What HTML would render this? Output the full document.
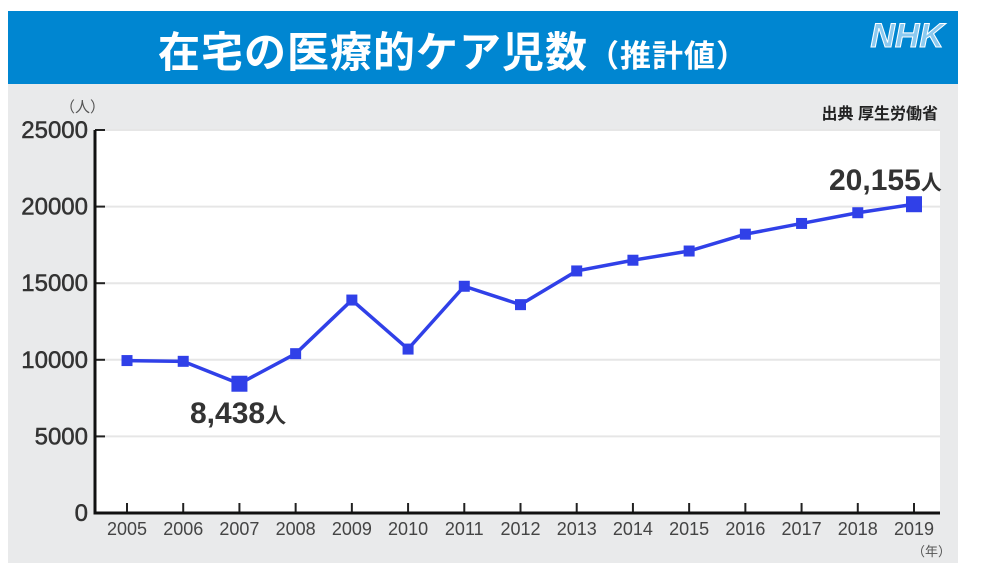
<!DOCTYPE html>
<html><head><meta charset="utf-8"><style>
body{margin:0;width:982px;height:583px;background:#fff;overflow:hidden;font-family:"Liberation Sans","Noto Sans CJK JP",sans-serif}
#hdr{position:absolute;left:8px;top:11px;width:950px;height:73px;background:#0086d1}
#title{position:absolute;left:0;width:890px;top:8px;text-align:center;color:#fff;font-size:42px;font-weight:bold;letter-spacing:1px}
#title small{font-size:31px}
#nhk{position:absolute;right:14px;top:6px;color:#8ccaf0;font-size:34px;font-weight:bold;font-style:italic;-webkit-text-stroke:1px #fff}
#bg{position:absolute;left:8px;top:84px;width:950px;height:479px;background:#e9eaeb}
</style></head><body>
<div id="hdr"><div id="title">在宅の医療的ケア児数<small>（推計値）</small></div><div id="nhk">NHK</div></div>
<div id="bg"></div>
<svg id="chart" width="982" height="583" style="position:absolute;left:0;top:0"></svg>
<script>
const years=["2005","2006","2007","2008","2009","2010","2011","2012","2013","2014","2015","2016","2017","2018","2019"];
const values=[9950,9900,8438,10400,13900,10700,14800,13600,15800,16500,17100,18200,18900,19600,20155];
const yTicks=[0,5000,10000,15000,20000,25000];
const NS="http://www.w3.org/2000/svg";
const svg=document.getElementById('chart');
const X0=95,X1=940,Y0=513,Y1=130;
function x(i){return 127+i*(914-127)/(years.length-1);}
function y(v){return Y0-(v/25000)*(Y0-Y1);}
function mk(t,a,p){const e=document.createElementNS(NS,t);for(const k in a)e.setAttribute(k,a[k]);(p||svg).appendChild(e);return e;}
const plot=mk('rect',{x:X0,y:Y1,width:X1-X0,height:Y0-Y1,fill:'#fff'});


yTicks.forEach(v=>{
  if(v>0){const g=mk('line',{x1:X0,x2:X1,y1:y(v),y2:y(v),stroke:'#e6e6e6','stroke-width':2});
  
  }
  const tk=mk('line',{x1:X0,x2:X0+10,y1:y(v),y2:y(v),stroke:'#222','stroke-width':2});
  
  
  const t=mk('text',{x:X0-7,y:y(v)+8,'text-anchor':'end','font-size':24,fill:'#333',stroke:'#333','stroke-width':0.5});
  t.textContent=v;
  
  
});
years.forEach((yr,i)=>{
  const tk=mk('line',{x1:x(i),x2:x(i),y1:Y0-10,y2:Y0,stroke:'#222','stroke-width':2});
  
  
  const t=mk('text',{x:x(i),y:Y0+22,'text-anchor':'middle','font-size':18,fill:'#444'});
  t.textContent=yr;
  
  
});
const ax=mk('path',{d:`M${X0} ${Y1}V${Y0}H${X1}`,stroke:'#111','stroke-width':3,fill:'none'});


const line=mk('polyline',{points:values.map((v,i)=>x(i)+','+y(v)).join(' '),fill:'none',stroke:'#3040e8','stroke-width':3.5});


values.forEach((v,i)=>{
  const big=(i===2||i===values.length-1);const s=big?16:11;
  const r=mk('rect',{x:x(i)-s/2,y:y(v)-s/2,width:s,height:s,fill:'#3040e8'});
  
  
});
function lbl(txt,px,py,name){const t=mk('text',{x:px,y:py,'font-size':30,fill:'#333','font-weight':'bold'});t.innerHTML=txt+'<tspan font-size="21">人</tspan>';

}
lbl(values[2].toLocaleString('en-US'),190,423,'label-2007');
lbl(values[14].toLocaleString('en-US'),829,190,'label-2019');
const u=mk('text',{x:60,y:112,'font-size':15,fill:'#555'});u.textContent='（人）';


const yu=mk('text',{x:912,y:556,'font-size':13,fill:'#555'});yu.textContent='（年）';


const src=mk('text',{x:938,y:119,'text-anchor':'end','font-size':16,fill:'#222','font-weight':'bold'});src.textContent='出典 厚生労働省';


</script>
</body></html>
